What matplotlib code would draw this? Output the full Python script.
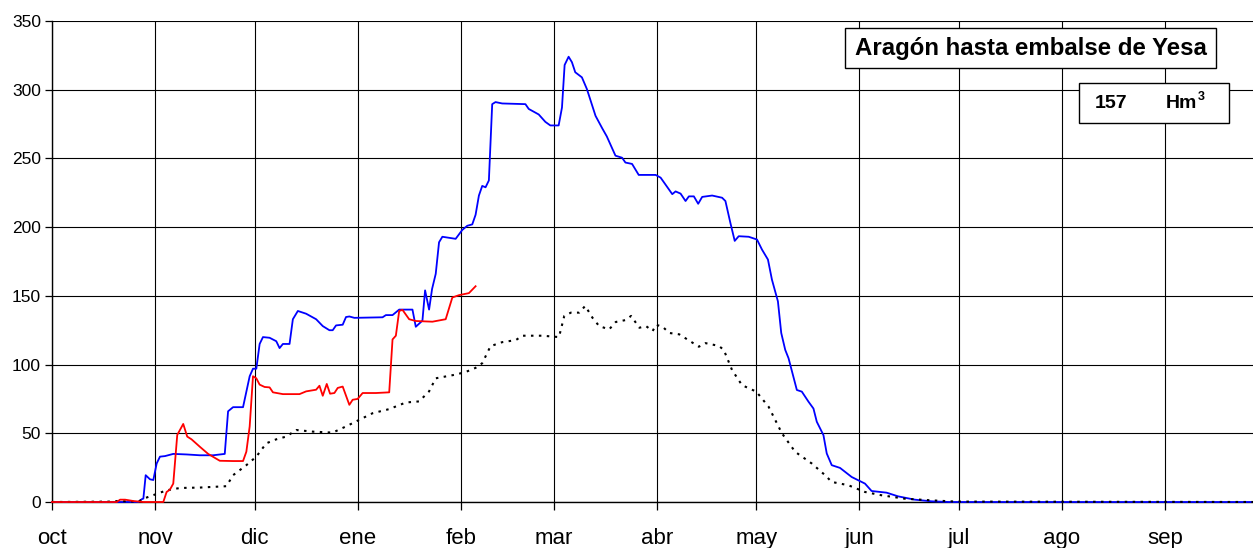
import matplotlib.pyplot as plt
from matplotlib.patches import Rectangle

plt.rcParams['font.family'] = ['Liberation Sans', 'DejaVu Sans']

# days counted from 1 October
month_labels = ['oct', 'nov', 'dic', 'ene', 'feb', 'mar', 'abr', 'may', 'jun', 'jul', 'ago', 'sep']
month_starts = [0, 31, 61, 92, 123, 151, 182, 212, 243, 273, 304, 335]

# blue series (wet year)
blue_days = [0, 26, 27, 27.5, 28.2, 29.5, 30.5, 31.5, 32.5, 34, 36.5, 40.5, 44.5, 48.5, 52, 53, 54.5,
             57.5, 59.5, 60.5, 61.5, 62.5, 63.5, 65.5, 67.5, 68.5, 69.5, 71.5, 72.5, 74, 76.5, 79.5,
             81.5, 83.5, 84.5, 85.5, 87.5, 88.5, 89.5, 91, 99.5, 100.5, 102.5, 104.5, 108.5, 109.5,
             111.5, 112.3, 113.5, 114.4, 115.5, 116.5, 117.5, 121.5, 123.5, 125, 126.5, 127.5, 128.5,
             129.5, 130.5, 131.5, 132.5, 133.5, 135.5, 142.5, 143.5, 146.5, 148.5, 150, 152.5, 153.5,
             154.3, 155.5, 156.5, 157.5, 159.5, 161, 163.6, 165.6, 167, 169.6, 171.6, 172.6, 174.6,
             176.6, 181.7, 183.2, 186.7, 187.7, 189.2, 190.7, 191.7, 193.2, 194.5, 195.7, 198.7,
             201.7, 202.7, 204.2, 205.5, 206.7, 209.7, 212.2, 213.7, 215.5, 216.7, 218.5, 219.5,
             220.7, 221.7, 224.2, 225.7, 227.7, 229.2, 230.2, 232.2, 233.2, 234.7, 237.2, 240.7,
             244.7, 246.7, 251.2, 254.7, 259.7, 264.7, 270, 365]
blue_vals = [0, 0, 2, 2.5, 19.5, 16.5, 16, 28, 33, 33.4, 35, 34.6, 34, 34, 35, 66, 69,
             69, 91.5, 97, 97, 115, 120, 119.5, 117, 112, 115, 115, 133, 139, 137, 133,
             128, 125, 125, 128.5, 129, 134.6, 135, 134, 134.4, 136, 136, 140, 140, 127.5,
             132, 154, 140, 155, 166, 189, 193, 191.5, 198, 201, 202, 209, 223,
             230, 229, 234, 289.5, 291, 290, 289.5, 286, 282, 276.6, 274, 274, 287,
             318, 324, 320, 312.7, 309, 300.5, 281, 272, 266, 252, 250.5, 247, 246,
             238, 238, 236, 224, 226, 224.4, 219, 222.4, 222.4, 217, 222, 223,
             221.4, 219, 203, 190, 193.4, 193, 191, 183.7, 176.4, 161.8, 146, 123,
             110.7, 104.6, 81.5, 80.3, 73, 68, 58.4, 48.7, 35.3, 26.8, 24.8, 18.2,
             13.4, 8, 6.8, 4.1, 1.7, 0.5, 0, 0]

# red series (current year)
red_days = [0, 19.5, 20.5, 22, 24.5, 27.5, 33.5, 34.5, 35.5, 36.5, 37.7, 39.5, 40.7, 42, 44.5, 47,
            50.5, 54.5, 57.5, 58.5, 59.5, 60.5, 61.5, 62.5, 64, 65.5, 66.5, 69.5, 74.5, 76.5, 79.5,
            80.5, 81.5, 82.7, 83.7, 85, 86, 87.5, 89.5, 90.5, 92, 93.5, 97.5, 101.5, 102.5, 103.5,
            104.5, 105.5, 107.5, 109.5, 114.5, 118.5, 120.5, 122.5, 125.5, 127.5]
red_vals = [0, 0, 1.7, 1.7, 0.7, 0, 0, 7.3, 9, 13.4, 48.8, 56.8, 47.6, 45.6, 40.2, 35,
            30, 29.8, 29.8, 36.6, 55, 91.5, 90, 85.4, 83.7, 83.4, 79.8, 78.5, 78.5, 80.5, 81.7,
            84.6, 77.3, 85.9, 78.8, 79.3, 83, 84, 70.7, 74.4, 75, 79.3, 79.3, 79.8, 118.3, 121,
            139, 139.8, 133, 131.7, 131.2, 133, 148.8, 150.5, 152, 157]

# black dotted series (mean)
mean_days = [0, 18, 20, 22, 26, 27.5, 30.5, 34.5, 38.5, 44.5, 52.5, 54.5, 58.5, 61.5, 64.5, 67.5,
             70.5, 73.5, 78.5, 84.5, 88.5, 92.5, 96.5, 101.5, 106.5, 110.5, 113.5, 115.5, 121.5,
             124.5, 127.5, 129.5, 132, 135.5, 139.6, 141.6, 147.6, 152.6, 154.2, 156.2, 158.7,
             160.5, 162.7, 164.7, 167.7, 169.7, 172.7, 174.3, 176.8, 178.8, 180.8, 181.8, 183.8,
             185.8, 188.8, 194.7, 196.7, 200.7, 202.2, 204.7, 207.7, 212, 215.7, 219.7, 223.7,
             228.7, 232.7, 234.7, 239.7, 244.7, 249.7, 256.7, 264.7, 272, 365]
mean_vals = [0, 0.3, 0.8, 0.5, 0.3, 2.4, 5, 8.5, 10.2, 10.5, 11.5, 19.5, 26.8, 33, 42.7, 45.6,
             47.6, 52.4, 51.2, 50.5, 55, 59.8, 64.6, 67.6, 72.4, 73.2, 80.5, 90, 92.7,
             94.6, 97.6, 101, 113.4, 116.3, 117.8, 121, 121, 120, 135.4, 137.8, 137.8,
             142.7, 134, 128, 125.6, 131, 132.4, 135.4, 126.8, 128, 124.4, 129, 127.5,
             123, 122, 113, 115.6, 113.6, 110.7, 96, 85, 80.3, 69.3, 50, 36.5,
             28, 19.5, 14.6, 12.2, 7.3, 4.9, 2.4, 1.2, 0.3, 0]

title = 'Aragón hasta embalse de Yesa'
volume = '157'
unit = 'Hm'
unit_exp = '3'

W, H = 1253, 548
fig = plt.figure(figsize=(W / 100, H / 100), dpi=100)
ax = fig.add_axes([52 / W, (H - 502) / H, (W - 52) / W, (502 - 21) / H])

# drawn above the spines so the zero stretches stay visible
ax.plot(blue_days, blue_vals, color='#0000ff', lw=1.3, zorder=3, clip_on=False)
ax.plot(mean_days, mean_vals, color='black', lw=1.5, dashes=(1.2, 2.6), zorder=3, clip_on=False)
ax.plot(red_days, red_vals, color='#ff0000', lw=1.3, zorder=3, clip_on=False)

ax.set_xlim(0, 361.5)
ax.set_ylim(0, 350)
ax.set_yticks(range(0, 351, 50))
ax.set_xticks(month_starts)
ax.set_xticklabels(month_labels, fontsize=16)
ax.tick_params(axis='y', labelsize=12.5, length=5, width=0.9, pad=3)
ax.tick_params(axis='x', length=6, width=0.9, pad=12.5)
ax.grid(True, color='black', lw=0.8)
ax.set_axisbelow(True)
for s in ['top', 'right']:
    ax.spines[s].set_visible(False)
for s in ['left', 'bottom']:
    ax.spines[s].set_linewidth(1.0)


def box(x0, y0, x1, y1):
    r = Rectangle((x0 / W, 1 - y1 / H), (x1 - x0) / W, (y1 - y0) / H, transform=fig.transFigure,
                  facecolor='white', edgecolor='black', lw=1.0, zorder=5)
    fig.add_artist(r)


box(845, 28, 1216, 68)
fig.text(1031 / W, 1 - 48 / H, title, ha='center', va='center', fontsize=17.3,
         fontweight='bold', zorder=6)
box(1079, 83, 1229, 123)
fig.text(1111 / W, 1 - 104 / H, volume, ha='center', va='center', fontsize=14,
         fontweight='bold', zorder=6)
fig.text(1197 / W, 1 - 104 / H, unit, ha='right', va='center', fontsize=14,
         fontweight='bold', zorder=6)
fig.text(1198 / W, 1 - 97 / H, unit_exp, ha='left', va='center', fontsize=9,
         fontweight='bold', zorder=6)

fig.savefig('out.png', dpi=100)
